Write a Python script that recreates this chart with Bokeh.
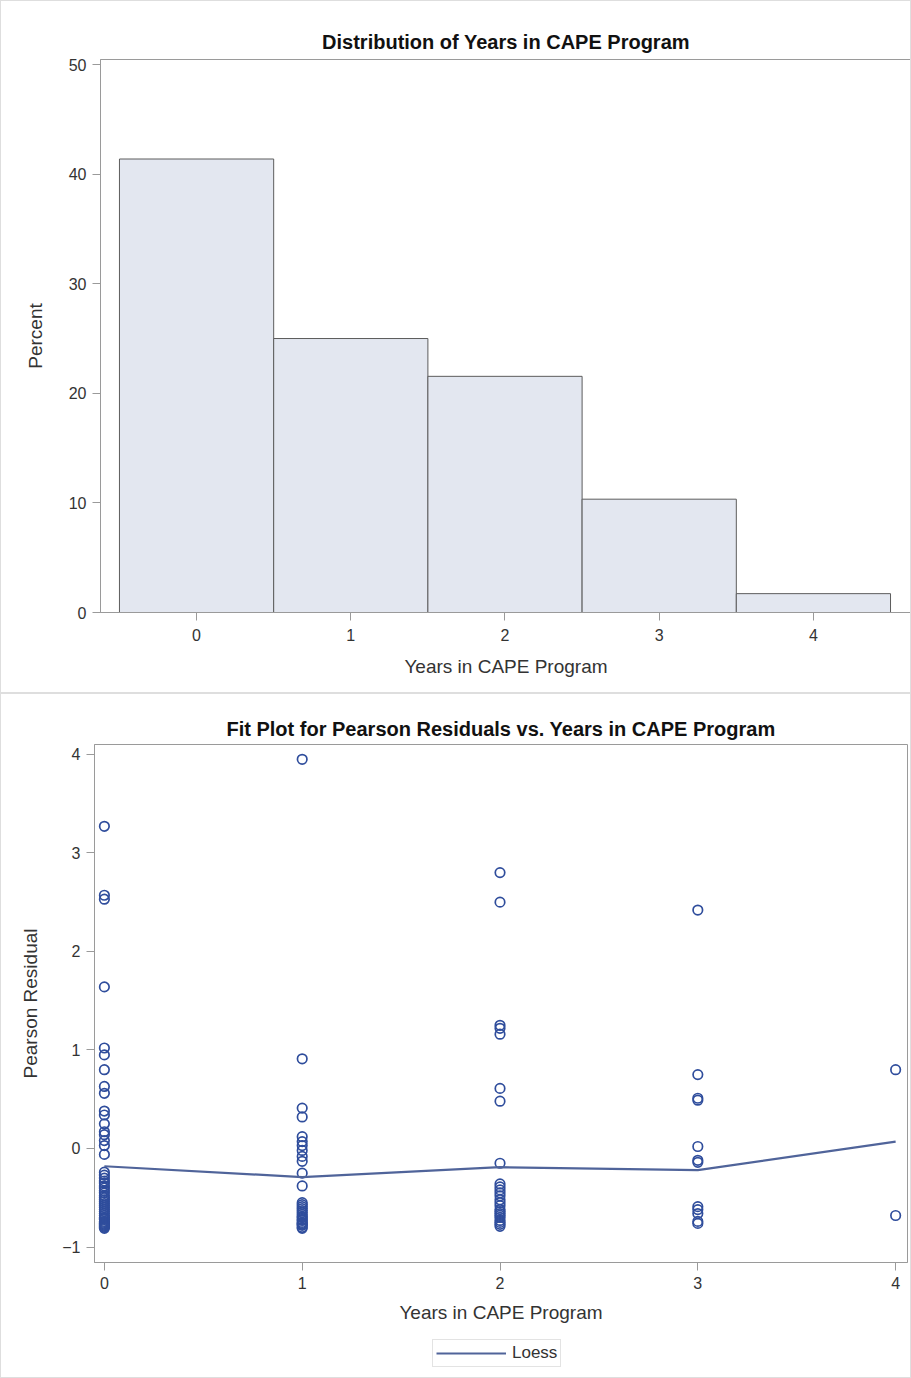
from bokeh.plotting import figure
from bokeh.layouts import column
from bokeh.models import Range1d, FixedTicker, Legend, LegendItem
from bokeh.embed import file_html
from bokeh.resources import INLINE

# ---------------- data ----------------
years = [0, 1, 2, 3, 4]
percent = [41.38, 25.00, 21.55, 10.34, 1.72]

resid_0 = [3.27, 2.57, 2.53, 1.64, 1.02, 0.95, 0.80, 0.63, 0.56, 0.38, 0.34, 0.25,
           0.17, 0.14, 0.08, 0.03, -0.06,
           -0.24, -0.27, -0.30, -0.33, -0.35, -0.38, -0.40, -0.43, -0.45, -0.48,
           -0.50, -0.52, -0.54, -0.56, -0.58, -0.60, -0.62, -0.64, -0.66, -0.68,
           -0.70, -0.71, -0.72, -0.74, -0.75, -0.76, -0.77, -0.78, -0.79, -0.80, -0.81]
resid_1 = [3.95, 0.91, 0.41, 0.32, 0.12, 0.07, 0.03, -0.02, -0.08, -0.13, -0.25, -0.38,
           -0.55, -0.57, -0.59, -0.61, -0.63, -0.65, -0.67, -0.69, -0.70, -0.72,
           -0.73, -0.75, -0.76, -0.77, -0.78, -0.80, -0.81]
resid_2 = [2.80, 2.50, 1.25, 1.22, 1.16, 0.61, 0.48, -0.15,
           -0.36, -0.39, -0.42, -0.45, -0.48, -0.52, -0.55, -0.58, -0.62, -0.64,
           -0.66, -0.68, -0.70, -0.73, -0.75, -0.77, -0.79]
resid_3 = [2.42, 0.75, 0.51, 0.49, 0.02, -0.12, -0.14, -0.59, -0.62, -0.66, -0.74, -0.76]
resid_4 = [0.80, -0.68]

loess_x = [0, 1, 2, 3, 4]
loess_y = [-0.18, -0.29, -0.19, -0.22, 0.07]

# ---------------- style ----------------
FONT = "Liberation Sans"
AXIS_COL = "#9a9a9a"
TEXT_COL = "#333333"
MARK_COL = "#2f4d9c"
LINE_COL = "#50649a"
BORDER = "1px solid #dedede"


def style_axes(p):
    for ax in [p.xaxis[0], p.yaxis[0]]:
        ax.axis_line_color = AXIS_COL
        ax.major_tick_line_color = AXIS_COL
        ax.minor_tick_line_color = None
        ax.major_tick_out = 8
        ax.major_tick_in = 0
        ax.major_label_text_font = FONT
        ax.major_label_text_font_size = "16px"
        ax.major_label_text_color = TEXT_COL
        ax.axis_label_text_font = FONT
        ax.axis_label_text_font_size = "19px"
        ax.axis_label_text_font_style = "normal"
        ax.axis_label_text_color = TEXT_COL
    p.xgrid.visible = False
    p.ygrid.visible = False
    p.outline_line_color = AXIS_COL
    p.title.align = "center"
    p.title.text_font = FONT
    p.title.text_font_size = "20px"
    p.title.text_font_style = "bold"
    p.title.text_color = "#111111"


# ---------------- top: histogram ----------------
p1 = figure(width=911, height=693, output_backend="svg", toolbar_location=None,
            title="Distribution of Years in CAPE Program",
            x_range=Range1d(-0.623, 4.636), y_range=Range1d(0, 50.46),
            min_border_left=99, min_border_right=1, min_border_top=58,
            min_border_bottom=82,
            styles={"border": BORDER, "box-sizing": "border-box"})
p1.vbar(x=years, top=percent, width=1.0, bottom=0,
        fill_color="#e3e7f0", line_color="#5c5c5c", line_width=1)
style_axes(p1)
p1.xaxis.ticker = FixedTicker(ticks=years)
p1.yaxis.ticker = FixedTicker(ticks=[0, 10, 20, 30, 40, 50])
p1.xaxis.axis_label = "Years in CAPE Program"
p1.yaxis.axis_label = "Percent"
p1.xaxis.major_label_standoff = 8
p1.xaxis.axis_label_standoff = 12
p1.yaxis.major_label_standoff = 6
p1.yaxis.axis_label_standoff = 20
p1.title.standoff = 13

# ---------------- bottom: fit plot ----------------
p2 = figure(width=909, height=638, output_backend="svg", toolbar_location=None,
            title="Fit Plot for Pearson Residuals vs. Years in CAPE Program",
            x_range=Range1d(-0.05, 4.06), y_range=Range1d(-1.157, 4.10),
            min_border_left=93, min_border_right=3, min_border_top=50,
            min_border_bottom=70)

groups = [resid_0, resid_1, resid_2, resid_3, resid_4]
xs, ys = [], []
for yr, vals in zip(years, groups):
    xs.extend([yr] * len(vals))
    ys.extend(vals)

p2.scatter(xs, ys, marker="circle", size=9.5, fill_color=None,
           line_color=MARK_COL, line_width=1.7)
p2.line(loess_x, loess_y, line_color=LINE_COL, line_width=2.2)
style_axes(p2)
p2.xaxis.ticker = FixedTicker(ticks=years)
p2.yaxis.ticker = FixedTicker(ticks=[-1, 0, 1, 2, 3, 4])
p2.xaxis.axis_label = "Years in CAPE Program"
p2.yaxis.axis_label = "Pearson Residual"
p2.xaxis.major_label_standoff = 6
p2.xaxis.axis_label_standoff = 10
p2.yaxis.major_label_standoff = 6
p2.yaxis.axis_label_standoff = 18
p2.title.standoff = 10

# ---------------- legend strip (same loess series, scrolled out of view) ----------------
p3 = figure(width=909, height=45, output_backend="svg", toolbar_location=None,
            x_range=Range1d(100, 101), y_range=Range1d(100, 101),
            x_axis_type=None, y_axis_type=None,
            min_border_left=0, min_border_right=0, min_border_top=0,
            min_border_bottom=0)
p3.outline_line_color = None
p3.grid.visible = False
legend_line = p3.line(loess_x, loess_y, line_color=LINE_COL, line_width=2.2)
legend = Legend(items=[LegendItem(label="Loess", renderers=[legend_line])],
                orientation="horizontal", location=(338, 10),
                border_line_color="#c8c8c8", label_text_font=FONT,
                label_text_font_size="17px", label_text_color=TEXT_COL,
                glyph_width=70, glyph_height=16, padding=3, margin=0,
                label_standoff=6, spacing=0, background_fill_alpha=1.0)
p3.add_layout(legend, "center")

bottom = column(p2, p3, spacing=0, styles={"border": BORDER})
layout = column(p1, bottom, spacing=0)
open("out.html", "w").write(file_html(layout, INLINE))
